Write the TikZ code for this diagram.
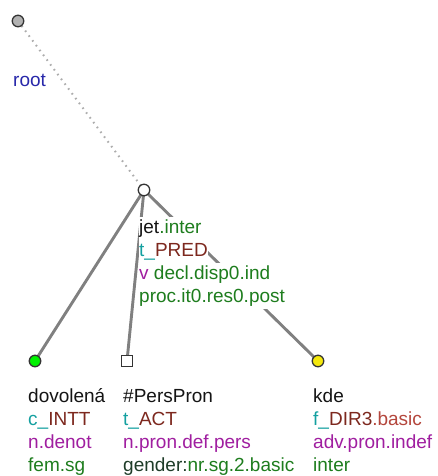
\documentclass[tikz,border=0pt]{standalone}
\usepackage{fontspec}
\setmainfont{Liberation Sans}
\usetikzlibrary{backgrounds}

\definecolor{lblack}{RGB}{20,20,20}
\definecolor{lgreen}{RGB}{30,125,30}
\definecolor{lteal}{RGB}{20,160,160}
\definecolor{lbrown}{RGB}{125,40,30}
\definecolor{lred}{RGB}{180,70,60}
\definecolor{lpurple}{RGB}{160,30,160}
\definecolor{lblue}{RGB}{40,40,170}
\definecolor{ldark}{RGB}{30,60,40}

\setlength{\fboxsep}{0pt}
\newcommand{\trow}[1]{\colorbox{white}{\strut #1}}

\begin{document}
\begin{tikzpicture}[
      x=1pt, y=-1pt,
      tnode/.style={circle, draw=black!80, line width=1.3pt, minimum size=11.5pt, inner sep=0pt},
      edge/.style={draw=gray, line width=2.9pt},
      rootedge/.style={draw=gray!65, line width=2pt, dash pattern=on 1.6pt off 4.4pt},
      attrs/.style={anchor=north west, inner sep=0pt, align=left, font=\fontsize{19}{23}\selectfont}
    ]
    \useasboundingbox (0,0) rectangle (438,476);

    % tree nodes
    \node[tnode, fill=gray!60] (root) at (18,21) {};
    \node[tnode, fill=white] (jet) at (144,190) {};
    \node[tnode, fill=green!95!black] (dovolena) at (35,361) {};
    \node[tnode, rectangle, fill=white, minimum size=11pt] (perspron) at (127,361) {};
    \node[tnode, fill=yellow!95!black] (kde) at (318,361) {};

    % edges, behind the nodes
    \begin{pgfonlayer}{background}
      \draw[rootedge] (root.center) -- (jet.center);
      \draw[edge] (jet.center) -- (dovolena.center);
      \draw[edge] (jet.center) -- (perspron.center);
      \draw[edge] (jet.center) -- (kde.center);
    \end{pgfonlayer}

    % labels
    \node[attrs] (root-l) at (13,69.9) {\trow{\color{lblue}root}};
    \node[attrs] (jet-l) at (139,216.9) {%
      \trow{\color{lblack}jet\color{lgreen}.inter}\\
      \trow{\color{lteal}t\_\color{lbrown}PRED}\\
      \trow{\color{lpurple}v \color{lgreen}decl.disp0.ind}\\
      \trow{\color{lgreen}proc.it0.res0.post}};
    \node[attrs] (dovolena-l) at (28,385.9) {%
      \trow{\color{lblack}dovolená}\\
      \trow{\color{lteal}c\_\color{lbrown}INTT}\\
      \trow{\color{lpurple}n.denot}\\
      \trow{\color{lgreen}fem.sg}};
    \node[attrs] (perspron-l) at (123,385.9) {%
      \trow{\color{lblack}\#PersPron}\\
      \trow{\color{lteal}t\_\color{lbrown}ACT}\\
      \trow{\color{lpurple}n.pron.def.pers}\\
      \trow{\color{ldark}gender:\color{lgreen}nr.sg.2.basic}};
    \node[attrs] (kde-l) at (313,385.9) {%
      \trow{\color{lblack}kde}\\
      \trow{\color{lteal}f\_\color{lbrown}DIR3\color{lred}.basic}\\
      \trow{\color{lpurple}adv.pron.indef}\\
      \trow{\color{lgreen}inter}};
  \end{tikzpicture}
\end{document}
